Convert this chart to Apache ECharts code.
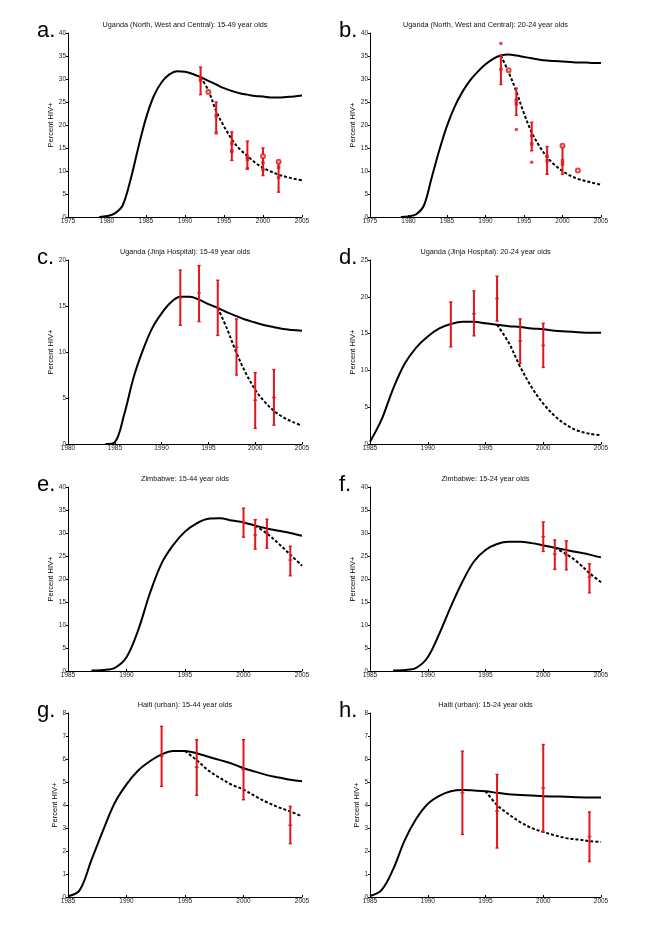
<!DOCTYPE html>
<html><head><meta charset="utf-8">
<script src="https://cdn.jsdelivr.net/npm/echarts@6/dist/echarts.min.js"></script>
<style>html,body{margin:0;padding:0;background:#fff}#c{width:662px;height:939px}</style>
</head><body><div id="c"></div>
<script>
// ---------- Panel a ----------
const aSolidYears = [1979,1980,1981,1982,1983,1984,1985,1986,1987,1988,1989,1990,1991,1992,1993,1994,1995,1996,1997,1998,1999,2000,2001,2002,2003,2004,2005];
const aSolid = [0,0.2,0.8,2.5,8,15,21.5,26.3,29.3,31,31.7,31.6,31.1,30.4,29.6,28.8,28.0,27.4,26.9,26.6,26.3,26.2,26.0,26.0,26.1,26.2,26.4];
const aDashYears = [1992,1993,1994,1995,1996,1997,1998,1999,2000,2001,2002,2003,2004,2005];
const aDash = [30.4,27.5,23,19.7,16.9,14.8,13.3,11.8,10.7,9.9,9.2,8.7,8.3,8.0];
const aBarYears = [1992,1994,1996,1998,2000,2002];
const aBarLow = [26.6,18.5,12.3,10.4,9.0,5.4];
const aBarHigh = [32.6,25.0,18.5,16.5,15.0,12.0];
const aMarkYears = [1992,1992,1994,1996,1996,1998,1998,2000,2000,2002,2002];
const aMarkValues = [30.3,29.7,22.0,16.0,14.4,13.0,12.5,11.8,10.3,10.8,8.6];
const aCircleYears = [1993,2000,2002];
const aCircleValues = [27.2,13.2,12.0];
const aDotYears = [1994,1996,1998];
const aDotValues = [18.2,14.2,10.6];

// ---------- Panel b ----------
const bSolidYears = [1979,1980,1981,1982,1983,1984,1985,1986,1987,1988,1989,1990,1991,1992,1993,1994,1995,1996,1997,1998,1999,2000,2001,2002,2003,2004,2005];
const bSolid = [0,0.1,0.6,2.5,8.5,14.5,19.8,24,27.2,29.7,31.6,33.2,34.4,35.1,35.3,35.1,34.8,34.5,34.2,34.0,33.9,33.8,33.7,33.6,33.6,33.5,33.5];
const bDashYears = [1992,1993,1994,1995,1996,1997,1998,1999,2000,2001,2002,2003,2004,2005];
const bDash = [35.1,31.5,27.3,22.5,18.4,15.4,13.0,11.3,10.0,9.0,8.3,7.8,7.4,7.0];
const bBarYears = [1992,1994,1996,1998,2000];
const bBarLow = [28.8,22.1,14.4,9.3,9.3];
const bBarHigh = [35.2,28.0,20.6,15.3,15.5];
const bMarkYears = [1992,1994,1994,1996,1996,1998,1998,2000,2000];
const bMarkValues = [32.1,25.4,24.6,17.7,15.9,13.2,12.2,12.2,11.5];
const bCircleYears = [1993,2000,2002];
const bCircleValues = [31.9,15.5,10.1];
const bDotYears = [1992,1994,1996];
const bDotValues = [37.7,19.0,11.9];

// ---------- Panel c ----------
const cSolidYears = [1984,1985,1986,1987,1988,1989,1990,1991,1992,1993,1994,1995,1996,1997,1998,1999,2000,2001,2002,2003,2004,2005];
const cSolid = [0,0.2,3.2,7.2,10.2,12.6,14.2,15.4,16.0,16.0,15.7,15.2,14.8,14.3,13.9,13.5,13.2,12.9,12.7,12.5,12.4,12.3];
const cDashYears = [1996,1997,1998,1999,2000,2001,2002,2003,2004,2005];
const cDash = [14.8,12.5,9.9,7.7,5.9,4.6,3.6,2.9,2.4,2.0];
const cBarYears = [1992,1994,1996,1998,2000,2002];
const cBarLow = [12.9,13.3,11.8,7.5,1.7,2.05];
const cBarHigh = [18.9,19.4,17.8,13.6,7.75,8.1];
const cBarMid = [15.9,16.4,14.8,10.5,4.75,5.05];

// ---------- Panel d ----------
const dSolidYears = [1985,1986,1987,1988,1989,1990,1991,1992,1993,1994,1995,1996,1997,1998,1999,2000,2001,2002,2003,2004,2005];
const dSolid = [0.3,3.3,7.5,10.9,13.1,14.6,15.7,16.3,16.6,16.6,16.4,16.2,16.0,15.9,15.7,15.6,15.4,15.3,15.2,15.1,15.1];
const dDashYears = [1996,1997,1998,1999,2000,2001,2002,2003,2004,2005];
const dDash = [16.2,13.8,10.5,7.7,5.5,3.8,2.6,1.8,1.4,1.2];
const dBarYears = [1992,1994,1996,1998,2000];
const dBarLow = [13.2,14.7,16.7,10.95,10.4];
const dBarHigh = [19.3,20.8,22.8,17.0,16.4];
const dBarMid = [16.3,17.7,19.75,14.0,13.4];

// ---------- Panel e ----------
const eSolidYears = [1987,1988,1989,1990,1991,1992,1993,1994,1995,1996,1997,1998,1999,2000,2001,2002,2003,2004,2005];
const eSolid = [0.1,0.2,0.7,3.0,8.9,16.9,23.4,27.4,30.3,32.1,33.1,33.2,32.7,32.3,31.6,31.0,30.5,30.0,29.4];
const eDashYears = [2001,2002,2003,2004,2005];
const eDash = [31.6,29.9,27.7,25.3,22.9];
const eBarYears = [2000,2001,2002,2004];
const eBarLow = [29.1,26.5,26.7,20.7];
const eBarHigh = [35.4,32.9,33.0,27.1];
const eBarMid = [32.3,29.6,30.0,24.1];

// ---------- Panel f ----------
const fSolidYears = [1987,1988,1989,1990,1991,1992,1993,1994,1995,1996,1997,1998,1999,2000,2001,2002,2003,2004,2005];
const fSolid = [0.1,0.2,0.7,3.0,8.1,14.0,19.4,23.8,26.3,27.6,28.1,28.1,27.8,27.3,26.8,26.3,25.8,25.3,24.7];
const fDashYears = [2001,2002,2003,2004,2005];
const fDash = [26.8,25.4,23.6,21.3,19.3];
const fBarYears = [2000,2001,2002,2004];
const fBarLow = [26.0,22.1,22.0,17.0];
const fBarHigh = [32.4,28.5,28.3,23.3];
const fBarMid = [29.2,25.4,25.2,20.4];

// ---------- Panel g ----------
const gSolidYears = [1985,1986,1987,1988,1989,1990,1991,1992,1993,1994,1995,1996,1997,1998,1999,2000,2001,2002,2003,2004,2005];
const gSolid = [0.03,0.3,1.6,2.9,4.1,4.9,5.5,5.9,6.2,6.35,6.35,6.25,6.1,5.95,5.8,5.6,5.45,5.3,5.2,5.1,5.03];
const gDashYears = [1995,1996,1997,1998,1999,2000,2001,2002,2003,2004,2005];
const gDash = [6.35,5.95,5.5,5.17,4.88,4.67,4.38,4.12,3.9,3.72,3.5];
const gBarYears = [1993,1996,2000,2004];
const gBarLow = [4.81,4.42,4.23,2.32];
const gBarHigh = [7.42,6.84,6.84,3.94];
const gBarMid = [6.12,5.64,5.54,3.12];

// ---------- Panel h ----------
const hSolidYears = [1985,1986,1987,1988,1989,1990,1991,1992,1993,1994,1995,1996,1997,1998,1999,2000,2001,2002,2003,2004,2005];
const hSolid = [0.04,0.3,1.2,2.46,3.4,4.05,4.4,4.6,4.65,4.63,4.6,4.53,4.47,4.44,4.41,4.38,4.37,4.36,4.34,4.33,4.33];
const hDashYears = [1995,1996,1997,1998,1999,2000,2001,2002,2003,2004,2005];
const hDash = [4.6,4.0,3.6,3.26,3.0,2.83,2.68,2.56,2.5,2.43,2.39];
const hBarYears = [1993,1996,2000,2004];
const hBarLow = [2.72,2.13,2.82,1.54];
const hBarHigh = [6.34,5.33,6.63,3.7];
const hBarMid = [4.53,3.73,4.73,2.63];

// ---------- Titles ----------
const titles = [
  'Uganda (North, West and Central): 15-49 year olds',
  'Uganda (North, West and Central): 20-24 year olds',
  'Uganda (Jinja Hospital): 15-49 year olds',
  'Uganda (Jinja Hospital): 20-24 year olds',
  'Zimbabwe: 15-44 year olds',
  'Zimbabwe: 15-24 year olds',
  'Haiti (urban): 15-44 year olds',
  'Haiti (urban): 15-24 year olds'
];
const letters = ['a.','b.','c.','d.','e.','f.','g.','h.'];
const yAxisName = 'Percent HIV+';

// ---------- Build ----------
const RED = '#e3141b';
const FONT = '"Liberation Sans", Arial, sans-serif';
const zip = (xs, ys) => xs.map((x, i) => [x, ys[i]]);

const panels = [
  {xMin:1975, xMax:2005, yMax:40, yInt:5, sx:aSolidYears, sy:aSolid, dx:aDashYears, dy:aDash, bx:aBarYears, bl:aBarLow, bh:aBarHigh, bm:null, marks:zip(aMarkYears,aMarkValues), circles:zip(aCircleYears,aCircleValues), dots:zip(aDotYears,aDotValues)},
  {xMin:1975, xMax:2005, yMax:40, yInt:5, sx:bSolidYears, sy:bSolid, dx:bDashYears, dy:bDash, bx:bBarYears, bl:bBarLow, bh:bBarHigh, bm:null, marks:zip(bMarkYears,bMarkValues), circles:zip(bCircleYears,bCircleValues), dots:zip(bDotYears,bDotValues)},
  {xMin:1980, xMax:2005, yMax:20, yInt:5, sx:cSolidYears, sy:cSolid, dx:cDashYears, dy:cDash, bx:cBarYears, bl:cBarLow, bh:cBarHigh, bm:cBarMid},
  {xMin:1985, xMax:2005, yMax:25, yInt:5, sx:dSolidYears, sy:dSolid, dx:dDashYears, dy:dDash, bx:dBarYears, bl:dBarLow, bh:dBarHigh, bm:dBarMid},
  {xMin:1985, xMax:2005, yMax:40, yInt:5, sx:eSolidYears, sy:eSolid, dx:eDashYears, dy:eDash, bx:eBarYears, bl:eBarLow, bh:eBarHigh, bm:eBarMid},
  {xMin:1985, xMax:2005, yMax:40, yInt:5, sx:fSolidYears, sy:fSolid, dx:fDashYears, dy:fDash, bx:fBarYears, bl:fBarLow, bh:fBarHigh, bm:fBarMid},
  {xMin:1985, xMax:2005, yMax:8, yInt:1, sx:gSolidYears, sy:gSolid, dx:gDashYears, dy:gDash, bx:gBarYears, bl:gBarLow, bh:gBarHigh, bm:gBarMid},
  {xMin:1985, xMax:2005, yMax:8, yInt:1, sx:hSolidYears, sy:hSolid, dx:hDashYears, dy:hDash, bx:hBarYears, bl:hBarLow, bh:hBarHigh, bm:hBarMid}
];

const colLeft = [68, 370], colWidth = [234, 231];
const rowTop = [33, 260, 487, 713], plotH = 184;

const grid = [], xAxis = [], yAxis = [], series = [], graphic = [];

function errBar(params, api) {
  const x = api.value(0);
  const p1 = api.coord([x, api.value(1)]);
  const p2 = api.coord([x, api.value(2)]);
  const c = 1.6;
  return {type: 'group', children: [
    {type: 'line', shape: {x1: p1[0], y1: p1[1], x2: p2[0], y2: p2[1]}, style: {stroke: RED, lineWidth: 2}},
    {type: 'line', shape: {x1: p1[0]-c, y1: p1[1], x2: p1[0]+c, y2: p1[1]}, style: {stroke: RED, lineWidth: 1.4}},
    {type: 'line', shape: {x1: p2[0]-c, y1: p2[1], x2: p2[0]+c, y2: p2[1]}, style: {stroke: RED, lineWidth: 1.4}}
  ]};
}

panels.forEach((p, i) => {
  const col = i % 2, row = Math.floor(i / 2);
  const left = colLeft[col], width = colWidth[col], top = rowTop[row];
  grid.push({left: left, top: top, width: width, height: plotH, containLabel: false});
  xAxis.push({
    type: 'value', gridIndex: i, min: p.xMin, max: p.xMax, interval: 5,
    axisLine: {show: true, lineStyle: {color: '#000', width: 1}},
    axisTick: {show: true, inside: true, length: 2, lineStyle: {color: '#000'}},
    axisLabel: {fontSize: 6.5, color: '#222', margin: 1, fontFamily: FONT, formatter: v => String(v)},
    splitLine: {show: false}
  });
  yAxis.push({
    type: 'value', gridIndex: i, min: 0, max: p.yMax, interval: p.yInt,
    name: yAxisName, nameLocation: 'middle', nameGap: (p.yMax < 10 ? 9 : 12), nameRotate: 90,
    nameTextStyle: {fontSize: 7.5, color: '#000', fontFamily: FONT},
    axisLine: {show: true, lineStyle: {color: '#000', width: 1}},
    axisTick: {show: true, inside: false, length: 2, lineStyle: {color: '#000'}},
    axisLabel: {fontSize: 6.5, color: '#222', margin: 2, fontFamily: FONT, formatter: v => String(v)},
    splitLine: {show: false}
  });
  series.push({
    type: 'line', xAxisIndex: i, yAxisIndex: i, data: zip(p.sx, p.sy),
    smooth: 0.35, symbol: 'none', z: 2,
    lineStyle: {color: '#000', width: 2}
  });
  series.push({
    type: 'line', xAxisIndex: i, yAxisIndex: i, data: zip(p.dx, p.dy),
    smooth: 0.35, symbol: 'none', z: 2,
    lineStyle: {color: '#000', width: 2, type: [3, 2]}
  });
  series.push({
    type: 'custom', xAxisIndex: i, yAxisIndex: i, renderItem: errBar, z: 3,
    encode: {x: 0, y: [1, 2]},
    data: p.bx.map((x, j) => [x, p.bl[j], p.bh[j]])
  });
  if (p.bm) {
    series.push({
      type: 'scatter', xAxisIndex: i, yAxisIndex: i, z: 4,
      symbol: 'rect', symbolSize: [4, 1.5], itemStyle: {color: RED},
      data: zip(p.bx, p.bm)
    });
  }
  if (p.marks) {
    series.push({
      type: 'scatter', xAxisIndex: i, yAxisIndex: i, z: 4,
      symbol: 'rect', symbolSize: 3.5, itemStyle: {color: RED},
      data: p.marks
    });
  }
  if (p.circles) {
    series.push({
      type: 'scatter', xAxisIndex: i, yAxisIndex: i, z: 4,
      symbol: 'emptyCircle', symbolSize: 4, itemStyle: {color: RED, borderWidth: 1.3},
      data: p.circles
    });
  }
  if (p.dots) {
    series.push({
      type: 'scatter', xAxisIndex: i, yAxisIndex: i, z: 4,
      symbol: 'circle', symbolSize: 3.5, itemStyle: {color: RED},
      data: p.dots
    });
  }
  graphic.push({
    type: 'text', x: left + width / 2, y: top - 8, silent: true,
    style: {text: titles[i], fontSize: 7.3, fontFamily: FONT, fill: '#111', textAlign: 'center', textVerticalAlign: 'middle', align: 'center', verticalAlign: 'middle'}
  });
  graphic.push({
    type: 'text', x: (col === 0 ? 37 : 339), y: top - 2, silent: true,
    style: {text: letters[i], fontSize: 22, fontFamily: FONT, fill: '#000', textAlign: 'left', textVerticalAlign: 'middle', align: 'left', verticalAlign: 'middle'}
  });
});

const chart = echarts.init(document.getElementById('c'), null, {renderer: 'canvas', width: 662, height: 939});
chart.setOption({
  animation: false,
  backgroundColor: '#fff',
  grid: grid, xAxis: xAxis, yAxis: yAxis, series: series, graphic: graphic
});
</script>
</body></html>
